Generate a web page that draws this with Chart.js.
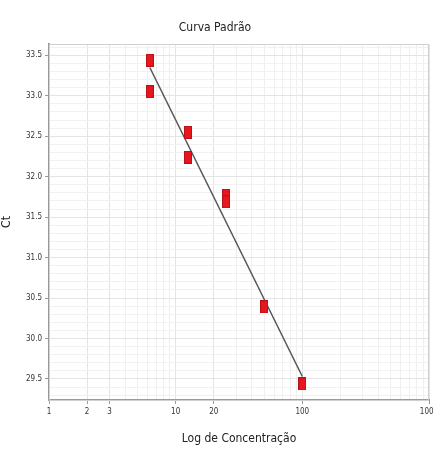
<!DOCTYPE html>
<html>
<head>
<meta charset="utf-8">
<script src="https://cdn.jsdelivr.net/npm/chart.js@4/dist/chart.umd.min.js"></script>
<style>
  html, body { margin: 0; padding: 0; background: #fff; }
  #wrap { width: 434px; height: 452px; }
</style>
</head>
<body>
<div id="wrap"><canvas id="chart" width="434" height="452"></canvas></div>
<script>
const concentrations = [6.25, 6.25, 12.5, 12.5, 25, 25, 50, 100];
const ctValues = [33.44, 33.05, 32.55, 32.24, 31.77, 31.69, 30.39, 29.44];
const fitConc = [6.25, 100];
const fitCt = [33.35, 29.53];
const xLabels = [1, 2, 3, 10, 20, 100, 1000];
const yLabels = [29.5, 30.0, 30.5, 31.0, 31.5, 32.0, 32.5, 33.0, 33.5];

const FONT = "'Liberation Sans Narrow', 'DejaVu Sans Condensed', 'Liberation Sans', sans-serif";

// red rectangle marker
const marker = document.createElement("canvas");
marker.width = 8;
marker.height = 13;
const mctx = marker.getContext("2d");
mctx.fillStyle = "#b5121b";
mctx.fillRect(0, 0, 8, 13);
mctx.fillStyle = "#e8161d";
mctx.fillRect(1, 1, 6, 11);

const isMajorY = (v) => yLabels.some((l) => Math.abs(l - v) < 1e-6);

const frame = {
  id: "frame",
  beforeDatasetsDraw(chart) {
    const { ctx, chartArea: a } = chart;
    ctx.save();
    ctx.strokeStyle = "#d0d0d0";
    ctx.lineWidth = 1;
    ctx.strokeRect(a.left + 0.5, a.top + 0.5, a.right - a.left - 1, a.bottom - a.top);
    ctx.restore();
  },
};

new Chart(document.getElementById("chart"), {
  type: "scatter",
  data: {
    datasets: [
      {
        label: "Ajuste",
        type: "line",
        data: fitConc.map((x, i) => ({ x, y: fitCt[i] })),
        borderColor: "#555",
        borderWidth: 1.5,
        pointRadius: 0,
        order: 2,
      },
      {
        label: "Ct",
        data: concentrations.map((x, i) => ({ x, y: ctValues[i] })),
        pointStyle: marker,
        order: 1,
      },
    ],
  },
  options: {
    responsive: false,
    animation: false,
    layout: { padding: { left: 0, right: 4, top: 0, bottom: 0 } },
    plugins: {
      legend: { display: false },
      tooltip: { enabled: false },
      title: {
        display: true,
        text: "Curva Padrão",
        color: "#222",
        font: { family: FONT, size: 12, weight: "normal" },
        padding: { top: 20.5, bottom: 9.1 },
      },
    },
    scales: {
      x: {
        type: "logarithmic",
        min: 1,
        max: 1000,
        afterBuildTicks: (scale) => {
          const t = [];
          for (let d = 1; d < 1000; d *= 10) {
            for (let m = 1; m < 10; m++) t.push({ value: m * d });
          }
          t.push({ value: 1000 });
          scale.ticks = t;
        },
        afterFit: (scale) => {
          scale.height = 52;
          scale.paddingLeft = 0;
          scale.paddingRight = 0;
        },
        border: { color: "#9a9a9a", width: 2 },
        grid: {
          color: (c) => (c.tick && xLabels.includes(c.tick.value) ? "#e4e4e4" : "#efefef"),
          tickColor: (c) => (c.tick && xLabels.includes(c.tick.value) ? "#9a9a9a" : "rgba(0,0,0,0)"),
          tickLength: 4,
        },
        ticks: {
          autoSkip: false,
          maxRotation: 0,
          padding: 3,
          color: "#333",
          font: { family: FONT, size: 8 },
          callback: (v) => (xLabels.includes(v) ? String(v) : ""),
        },
        title: {
          display: true,
          text: "Log de Concentração",
          color: "#222",
          font: { family: FONT, size: 12 },
          padding: { top: 4, bottom: 6 },
        },
      },
      y: {
        min: 29.24,
        max: 33.64,
        afterBuildTicks: (scale) => {
          const t = [];
          for (let i = 293; i <= 336; i++) t.push({ value: i / 10 });
          scale.ticks = t;
        },
        afterFit: (scale) => {
          scale.width = 49;
          scale.paddingTop = 0;
          scale.paddingBottom = 0;
        },
        border: { color: "#9a9a9a", width: 2 },
        grid: {
          color: (c) => (c.tick && isMajorY(c.tick.value) ? "#e4e4e4" : "#f1f1f1"),
          tickColor: (c) => (c.tick && isMajorY(c.tick.value) ? "#9a9a9a" : "rgba(0,0,0,0)"),
          tickLength: 4,
        },
        ticks: {
          autoSkip: false,
          padding: 3,
          color: "#333",
          font: { family: FONT, size: 8 },
          callback: (v) => (isMajorY(v) ? v.toFixed(1) : ""),
        },
        title: {
          display: true,
          text: "Ct",
          color: "#222",
          font: { family: FONT, size: 12 },
          padding: { top: 0, bottom: 4 },
        },
      },
    },
  },
  plugins: [frame],
});
</script>
</body>
</html>
